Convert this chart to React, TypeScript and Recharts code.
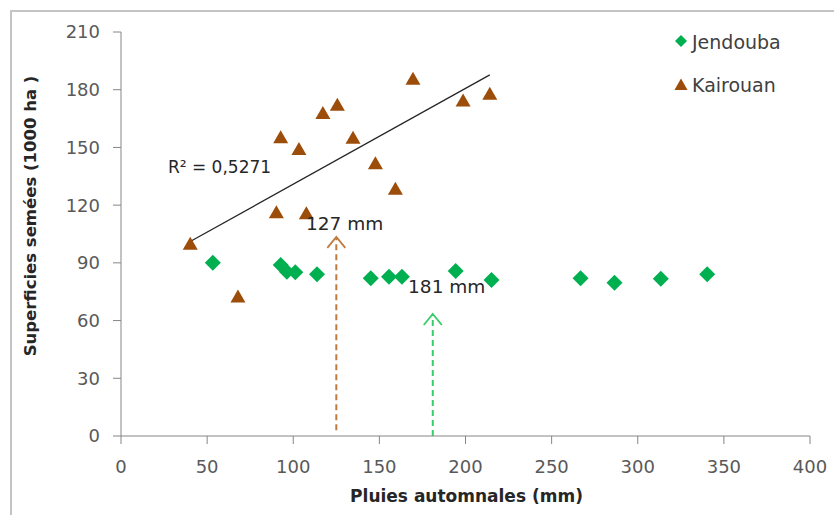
import { ScatterChart, Scatter, XAxis, YAxis, ReferenceLine, ReferenceDot } from "recharts";

// Jendouba: autumn rain (mm) vs sown area (1000 ha)
const jendoubaRain = [53.3, 92.7, 96.3, 101.2, 113.8, 145, 155.6, 163.1, 194.3, 215.1, 266.8, 286.5, 313.4, 340.3];
const jendoubaArea = [90.1, 88.9, 85.4, 85.1, 84.1, 82.0, 82.8, 82.8, 85.8, 81.1, 82.0, 79.7, 81.8, 84.1];

// Kairouan
const kairouanRain = [40.2, 67.9, 90.2, 92.7, 103.3, 107.6, 117.2, 125.6, 134.7, 147.7, 159.3, 169.5, 198.6, 214.1];
const kairouanArea = [100.2, 72.8, 116.6, 155.6, 149.5, 116.1, 168.1, 172.4, 155.3, 142.1, 128.8, 185.9, 174.7, 178.1];

const xTicks = [0, 50, 100, 150, 200, 250, 300, 350, 400];
const yTicks = [0, 30, 60, 90, 120, 150, 180, 210];

// threshold arrows
const arrowRain = [125, 181];
const arrowBase = [3, 0];
const arrowTop = [103.5, 63.4];
const arrowLabels = ["127 mm", "181 mm"];
const arrowLabelX = [129.8, 189.1];
const arrowLabelY = [110.7, 77.5];
const arrowColors = ["#BF7A3F", "#3ACB6A"];

const r2Text = "R² = 0,5271";
const r2Pos = { x: 57.2, y: 139.8 };

const GREEN = "#00B050";
const BROWN = "#9C4D0A";
const FONT = "DejaVu Sans";

const jendouba = jendoubaRain.map((x, i) => ({ x, y: jendoubaArea[i] }));
const kairouan = kairouanRain.map((x, i) => ({ x, y: kairouanArea[i] }));

// least squares trend for Kairouan
const n = kairouanRain.length;
const mx = kairouanRain.reduce((a, b) => a + b, 0) / n;
const my = kairouanArea.reduce((a, b) => a + b, 0) / n;
let sxy = 0;
let sxx = 0;
kairouanRain.forEach((x, i) => {
  sxy += (x - mx) * (kairouanArea[i] - my);
  sxx += (x - mx) * (x - mx);
});
const slope = sxy / sxx;
const intercept = my - slope * mx;
const xMin = Math.min(...kairouanRain);
const xMax = Math.max(...kairouanRain);
const trend = [
  { x: xMin, y: intercept + slope * xMin },
  { x: xMax, y: intercept + slope * xMax }
];

const Diamond = (props: any) => {
  const { cx, cy } = props;
  const s = 8;
  return <path d={`M${cx},${cy - s}L${cx + s},${cy}L${cx},${cy + s}L${cx - s},${cy}Z`} fill={GREEN} />;
};

const Triangle = (props: any) => {
  const { cx, cy } = props;
  return (
    <path d={`M${cx},${cy - 6.5}L${cx + 7.5},${cy + 6.5}L${cx - 7.5},${cy + 6.5}Z`} fill={BROWN} />
  );
};

const makeArrow = (color: string) => (props: any) => {
  const { x1, y1, y2 } = props;
  const top = Math.min(y1, y2);
  const bottom = Math.max(y1, y2);
  return (
    <g>
      <line x1={x1} y1={bottom} x2={x1} y2={top + 1} stroke={color} strokeWidth={2} strokeDasharray="6 4" />
      <path d={`M${x1 - 9},${top + 11}L${x1},${top}L${x1 + 9},${top + 11}`} fill="none" stroke={color} strokeWidth={1.8} />
    </g>
  );
};

const makeText = (text: string, size: number) => (props: any) => (
  <text
    x={props.cx}
    y={props.cy}
    textAnchor="middle"
    dominantBaseline="central"
    fontFamily={FONT}
    fontSize={size}
    fill="#262626"
  >
    {text}
  </text>
);

const YTitle = (props: any) => {
  const vb = props.viewBox || { x: 0, y: 32, width: 121, height: 404 };
  const x = vb.x + 30;
  const y = vb.y + vb.height / 2 - 18;
  return (
    <text
      x={x}
      y={y}
      transform={`rotate(-90 ${x} ${y})`}
      textAnchor="middle"
      dominantBaseline="central"
      fontFamily={FONT}
      fontWeight="bold"
      fontSize={16.5}
      fill="#262626"
    >
      Superficies semées (1000 ha )
    </text>
  );
};

const XTitle = (props: any) => {
  const vb = props.viewBox || { x: 121, y: 436, width: 689, height: 79 };
  return (
    <text
      x={vb.x + vb.width / 2 + 1}
      y={vb.y + 60}
      textAnchor="middle"
      dominantBaseline="central"
      fontFamily={FONT}
      fontWeight="bold"
      fontSize={17}
      fill="#262626"
    >
      Pluies automnales (mm)
    </text>
  );
};

const tickStyle = { fill: "#595959", fontSize: 18, fontFamily: FONT };

export default function App() {
  return (
    <div style={{ position: "absolute", left: 0, top: 0, width: 834, height: 515, overflow: "hidden", background: "#fff" }}>
      <div
        style={{
          position: "absolute",
          left: 10,
          top: 10,
          width: 840,
          height: 540,
          border: "2px solid #C4C4C4"
        }}
      />
      <ScatterChart width={834} height={515} margin={{ top: 32, right: 24, left: 0, bottom: 0 }}>
        <XAxis
          type="number"
          dataKey="x"
          domain={[0, 400]}
          ticks={xTicks}
          height={79}
          tickSize={8}
          tickMargin={16}
          stroke="#868686"
          tick={tickStyle}
          label={<XTitle />}
        />
        <YAxis
          type="number"
          dataKey="y"
          domain={[0, 210]}
          ticks={yTicks}
          width={121}
          tickSize={8}
          tickMargin={13}
          stroke="#868686"
          tick={tickStyle}
          label={<YTitle />}
        />
        {arrowRain.map((r, i) => (
          <ReferenceLine
            key={"arrow" + i}
            segment={[
              { x: r, y: arrowBase[i] },
              { x: r, y: arrowTop[i] }
            ]}
            shape={makeArrow(arrowColors[i])}
          />
        ))}
        <Scatter
          name="trend"
          data={trend}
          line={{ stroke: "#262626", strokeWidth: 1.3 }}
          shape={() => <g />}
          isAnimationActive={false}
        />
        <Scatter name="Kairouan" data={kairouan} shape={Triangle} isAnimationActive={false} />
        <Scatter name="Jendouba" data={jendouba} shape={Diamond} isAnimationActive={false} />
        {arrowLabels.map((t, i) => (
          <ReferenceDot
            key={"lab" + i}
            x={arrowLabelX[i]}
            y={arrowLabelY[i]}
            r={0}
            shape={makeText(t, 18.5)}
          />
        ))}
        <ReferenceDot x={r2Pos.x} y={r2Pos.y} r={0} shape={makeText(r2Text, 17)} />
      </ScatterChart>
      <div style={{ position: "absolute", left: 672, top: 30, fontFamily: FONT, fontSize: 19, color: "#404040" }}>
        <div style={{ display: "flex", alignItems: "center", height: 24 }}>
          <svg width={20} height={20}>
            <path d="M9,3L15,9L9,15L3,9Z" fill={GREEN} />
          </svg>
          <span>Jendouba</span>
        </div>
        <div style={{ display: "flex", alignItems: "center", height: 24, marginTop: 19 }}>
          <svg width={20} height={20}>
            <path d="M9,3.5L15.5,15L2.5,15Z" fill={BROWN} />
          </svg>
          <span>Kairouan</span>
        </div>
      </div>
    </div>
  );
}
